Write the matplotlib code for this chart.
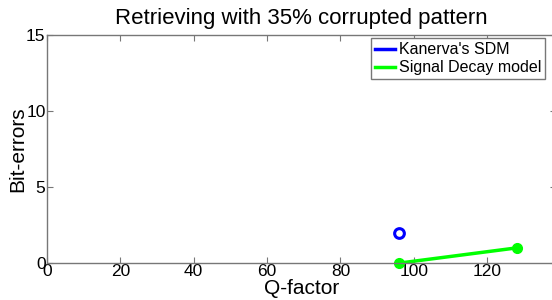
import numpy as np
import matplotlib
matplotlib.use("Agg")
import matplotlib.pyplot as plt

plt.rcParams['font.family'] = ['Liberation Sans', 'DejaVu Sans']

# data
sdm_q = [96]
sdm_err = [2]
decay_q = [96, 128]
decay_err = [0, 1]

xticks = [0, 20, 40, 60, 80, 100, 120]
yticks = [0, 5, 10, 15]

fig = plt.figure(figsize=(5.52, 3.0), dpi=100)
ax = fig.add_axes([0.085, 0.123, 0.922, 0.76])

ax.plot(sdm_q, sdm_err, color='#0000ff', lw=2.5, marker='o', ms=7,
        mfc='none', mew=2.2, label="Kanerva's SDM")
ax.plot(decay_q, decay_err, color='#00ff00', lw=2.5, marker='o', ms=7,
        mfc='#00ff00', mec='#00ff00', label='Signal Decay model')

ax.set_xlim(0, 138.7)
ax.set_ylim(0, 15)
ax.set_xticks(xticks)
ax.set_yticks(yticks)
ax.tick_params(direction='in', top=True, right=True, labelsize=12.5,
               length=4, color='#777777', pad=1)
for sp in ax.spines.values():
    sp.set_color('#777777')
    sp.set_linewidth(1.0)
for p in ax.lines:
    p.set_clip_on(False)

ax.set_xlabel('Q-factor', fontsize=15, labelpad=0)
ax.set_ylabel('Bit-errors', fontsize=15, labelpad=-1)
ax.set_title('Retrieving with 35% corrupted pattern', fontsize=16, pad=8)

leg = ax.legend(loc='upper right', fontsize=11.5, handlelength=1.3,
                handletextpad=0.2, borderpad=0.25, labelspacing=0.2,
                fancybox=False, framealpha=1, borderaxespad=0.2,
                bbox_to_anchor=(0.985, 1.0))
leg.get_frame().set_edgecolor('#777777')
for h in leg.legend_handles:
    h.set_marker('')

fig.savefig('out.png', dpi=100)
